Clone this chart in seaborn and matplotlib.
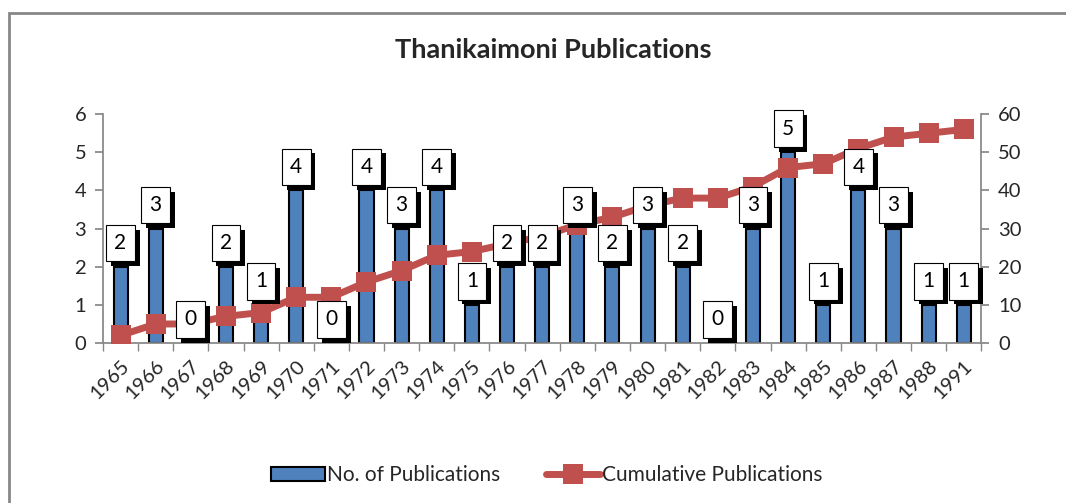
import numpy as np
import pandas as pd
import seaborn as sns
import matplotlib.pyplot as plt
import matplotlib.patheffects as pe
from matplotlib.patches import Rectangle

years = ['1965', '1966', '1967', '1968', '1969', '1970', '1971', '1972', '1973',
         '1974', '1975', '1976', '1977', '1978', '1979', '1980', '1981', '1982',
         '1983', '1984', '1985', '1986', '1987', '1988', '1991']
publications = [2, 3, 0, 2, 1, 4, 0, 4, 3, 4, 1, 2, 2, 3, 2, 3, 2, 0, 3, 5, 1, 4, 3, 1, 1]
cumulative = [2, 5, 5, 7, 8, 12, 12, 16, 19, 23, 24, 26, 28, 31, 33, 36, 38, 38,
              41, 46, 47, 51, 54, 55, 56]

sns.set_theme(style='white')
plt.rcParams['font.family'] = ['Lato', 'DejaVu Sans']

df = pd.DataFrame({'Year': years, 'Pubs': publications, 'Cum': cumulative})

fig = plt.figure(figsize=(10.66, 5.03), dpi=100)
ax = fig.add_axes([0.0966, 0.318, 0.824, 0.455])

sns.barplot(data=df, x='Year', y='Pubs', color='#4F81BD', saturation=1,
            width=0.4, edgecolor='black', linewidth=1.5, ax=ax,
            label='No. of Publications')
if ax.get_legend() is not None:
    ax.get_legend().remove()
ax.set_xlim(-0.5, len(years) - 0.5)
ax.set_ylim(0, 6)
ax.set_yticks(range(0, 7))
ax.set_xlabel('')
ax.set_ylabel('')

ax2 = ax.twinx()
sns.lineplot(x=np.arange(len(years)), y=df['Cum'], color='#C0504D', linewidth=5,
             marker='s', markersize=14, markeredgewidth=0, ax=ax2,
             label='Cumulative Publications', legend=False)
ax2.set_ylim(0, 60)
ax2.set_yticks(range(0, 70, 10))
ax2.set_ylabel('')

# axes styling, Excel-like
for a in (ax, ax2):
    for s in a.spines.values():
        s.set_visible(False)
ax.spines['left'].set_visible(True)
ax.spines['left'].set_color('#868686')
ax.spines['bottom'].set_visible(True)
ax.spines['bottom'].set_color('#868686')
ax2.spines['right'].set_visible(True)
ax2.spines['right'].set_color('#868686')

ax.tick_params(axis='y', left=True, length=6, color='#868686', labelsize=14.5, pad=6)
ax2.tick_params(axis='y', right=True, length=6, color='#868686', labelsize=14.5, pad=6)
ax.set_xticks(np.arange(len(years)))
ax.set_xticklabels(years, rotation=45, ha='right', rotation_mode='anchor', fontsize=14.5)
ax.tick_params(axis='x', bottom=False, pad=4)
ax.set_xticks(np.arange(len(years) + 1) - 0.5, minor=True)
ax.tick_params(axis='x', which='minor', bottom=True, length=6, color='#868686')

# data labels: white box with black drop shadow, drawn above the line
for i, v in enumerate(publications):
    t = ax2.annotate(str(v), (i, v), xycoords=ax.transData, xytext=(0, 17),
                     textcoords='offset points', ha='center', va='center',
                     fontsize=15, color='black', zorder=5,
                     bbox=dict(boxstyle='square,pad=0.4', fc='white', ec='black', lw=0.8))
    t.get_bbox_patch().set_path_effects([
        pe.SimplePatchShadow(offset=(3.5, -3.5), shadow_rgbFace='black', alpha=1),
        pe.Normal()])

fig.suptitle('Thanikaimoni Publications', x=0.519, y=0.925, fontsize=19.5, fontweight='bold')

h1, l1 = ax.get_legend_handles_labels()
h2, l2 = ax2.get_legend_handles_labels()
fig.legend(h1 + h2, l1 + l2, loc='center', bbox_to_anchor=(0.513, 0.055), ncol=2,
           frameon=False, fontsize=15, handlelength=2.6, columnspacing=2.2,
           handletextpad=0.1)

fig.patches.append(Rectangle((8.5 / 1066, -0.1), 1.2, 1 - 13 / 503 + 0.1,
                             transform=fig.transFigure, fill=False,
                             ec='#878787', lw=2, zorder=0))

fig.savefig('out.png', dpi=100)
